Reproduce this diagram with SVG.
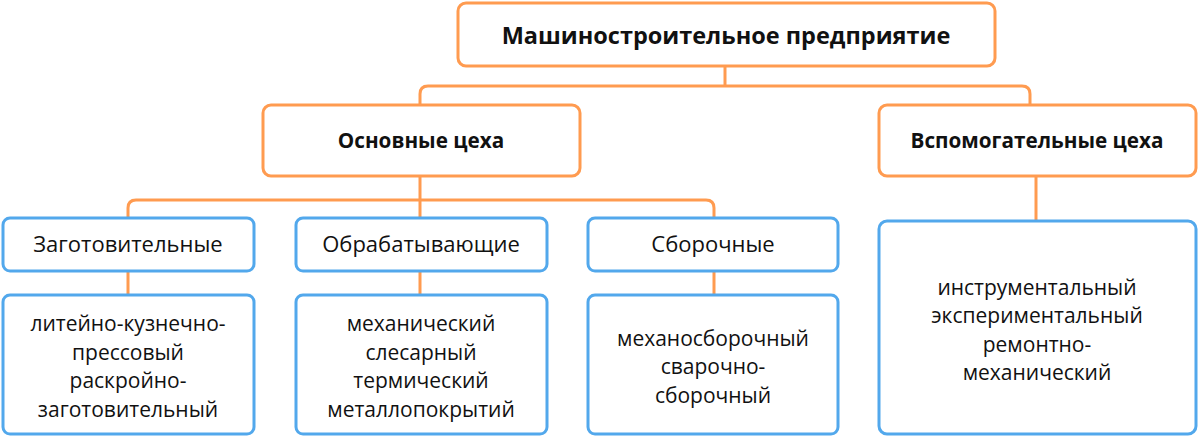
<svg xmlns="http://www.w3.org/2000/svg" width="1200" height="437" viewBox="0 0 1200 437">
<style>
.o{fill:#fff;stroke:#FF9B50;stroke-width:3}
.b{fill:#fff;stroke:#52A8EC;stroke-width:3}
.c{fill:none;stroke:#FF9B50;stroke-width:3}
text{font-family:"Open Sans","Noto Sans","DejaVu Sans",sans-serif;fill:#111;text-anchor:middle}
.h{font-weight:bold;font-size:20.7px}
.ti{font-weight:bold;font-size:23.5px}
.t{font-size:21px}
.s{font-size:22px}
</style>
<rect width="1200" height="437" fill="#fff"/>
<g id="connectors">
<path class="c" d="M725 67V86"/>
<path class="c" d="M420 105V94Q420 86 428 86H1022Q1030 86 1030 94V105"/>
<path class="c" d="M420 176V218"/>
<path class="c" d="M128 218V208Q128 200 136 200H706Q714 200 714 208V218"/>
<path class="c" d="M128 271V295M420 271V295M714 271V295"/>
<path class="c" d="M1036 176V221"/>
</g>
<g id="n-root"><rect class="o" x="458" y="3" width="537" height="63" rx="8"/><text class="ti" x="726" y="44">Машиностроительное предприятие</text></g>
<g id="n-main"><rect class="o" x="263" y="105" width="317" height="71" rx="8"/><text class="h" x="421" y="148">Основные цеха</text></g>
<g id="n-aux"><rect class="o" x="879" y="105" width="317" height="71" rx="8"/><text class="h" x="1037" y="148">Вспомогательные цеха</text></g>
<g id="n-zag"><rect class="b" x="3" y="218" width="251" height="53" rx="7"/><text class="s" x="128" y="252">Заготовительные</text></g>
<g id="n-obr"><rect class="b" x="296" y="218" width="251" height="53" rx="7"/><text class="s" x="421" y="252">Обрабатывающие</text></g>
<g id="n-sbor"><rect class="b" x="588" y="218" width="250" height="53" rx="7"/><text class="s" x="713" y="252">Сборочные</text></g>
<g id="n-zag2"><rect class="b" x="3" y="295" width="251" height="139" rx="7"/><text class="t" x="128"><tspan x="128" y="331">литейно-кузнечно-</tspan><tspan x="128" y="359.6">прессовый</tspan><tspan x="128" y="388.2">раскройно-</tspan><tspan x="128" y="416.8">заготовительный</tspan></text></g>
<g id="n-obr2"><rect class="b" x="296" y="295" width="251" height="139" rx="7"/><text class="t" x="421"><tspan x="421" y="331">механический</tspan><tspan x="421" y="359.6">слесарный</tspan><tspan x="421" y="388.2">термический</tspan><tspan x="421" y="416.8">металлопокрытий</tspan></text></g>
<g id="n-sbor2"><rect class="b" x="588" y="295" width="250" height="139" rx="7"/><text class="t" x="713"><tspan x="713" y="345.5">механосборочный</tspan><tspan x="713" y="374.1">сварочно-</tspan><tspan x="713" y="402.7">сборочный</tspan></text></g>
<g id="n-aux2"><rect class="b" x="879" y="221" width="317" height="213" rx="8"/><text class="t" x="1037"><tspan x="1037" y="294.5">инструментальный</tspan><tspan x="1037" y="323.1">экспериментальный</tspan><tspan x="1037" y="351.7">ремонтно-</tspan><tspan x="1037" y="380.3">механический</tspan></text></g>
</svg>
